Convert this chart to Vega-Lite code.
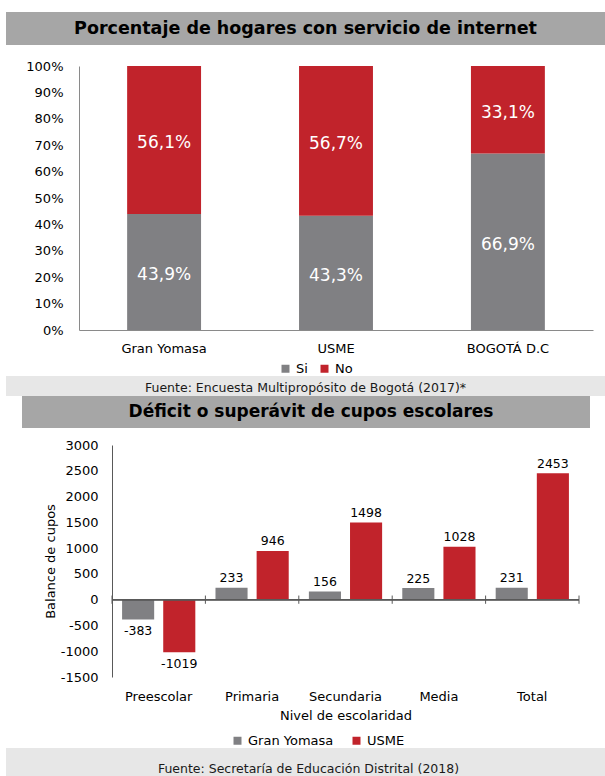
{
  "$schema": "https://vega.github.io/schema/vega-lite/v6.json",
  "background": "white",
  "padding": {"left": 6, "top": 12, "right": 0, "bottom": 0},
  "spacing": 0,
  "center": false,
  "resolve": {"scale": {"color": "independent"}, "legend": {"color": "independent"}},
  "config": {
    "font": "DejaVu Sans",
    "view": {"stroke": null},
    "concat": {"spacing": 0},
    "locale": {"number": {"decimal": ",", "thousands": ".", "grouping": [3], "currency": ["$", ""], "minus": "-"}},
    "axis": {"labelFont": "DejaVu Sans", "labelFontSize": 13, "labelColor": "#000000", "titleFont": "DejaVu Sans", "titleFontSize": 13, "titleFontWeight": "normal", "titleColor": "#000000", "grid": false, "ticks": false, "tickSize": 0, "labelOverlap": false},
    "legend": {"labelFont": "DejaVu Sans", "labelFontSize": 13, "labelColor": "#000000", "symbolType": "square", "symbolSize": 64, "symbolStrokeWidth": 0, "labelOffset": 4}
  },
  "vconcat": [
    {
      "width": 599, "height": 33,
      "view": {"fill": "#a6a6a6", "stroke": null},
      "data": {"values": [{"titulo": "Porcentaje de hogares con servicio de internet"}]},
      "mark": {"type": "text", "font": "DejaVu Sans", "fontWeight": "bold", "fontSize": 17.5, "color": "#000000"},
      "encoding": {"text": {"field": "titulo"}}
    },
    {
      "spacing": 0,
      "hconcat": [
        {
          "width": 1, "height": 1,
          "data": {"values": [{"vacio": ""}]},
          "mark": {"type": "text"},
          "encoding": {"text": {"field": "vacio"}}
        },
        {
          "width": 514, "height": 264,
          "title": {"text": " ", "fontSize": 10, "offset": 5},
          "data": {"values": [
            {"lugar": "Gran Yomasa", "respuesta": "Si", "valor": 0.439},
            {"lugar": "Gran Yomasa", "respuesta": "No", "valor": 0.561},
            {"lugar": "USME", "respuesta": "Si", "valor": 0.433},
            {"lugar": "USME", "respuesta": "No", "valor": 0.567},
            {"lugar": "BOGOTÁ D.C", "respuesta": "Si", "valor": 0.669},
            {"lugar": "BOGOTÁ D.C", "respuesta": "No", "valor": 0.331}
          ]},
          "encoding": {
            "x": {"field": "lugar", "type": "nominal", "sort": null,
                  "scale": {"paddingInner": 0.57, "paddingOuter": 0.28},
                  "axis": {"title": null, "labelAngle": 0, "labelPadding": 12, "domainColor": "#8a8a8a", "labelOverlap": false}},
            "order": {"field": "respuesta", "sort": "descending"}
          },
          "layer": [
            {
              "mark": {"type": "bar"},
              "encoding": {
                "y": {"field": "valor", "type": "quantitative", "stack": "zero",
                      "scale": {"domain": [0, 1], "nice": false},
                      "axis": {"title": null, "format": ".0%", "values": [0, 0.1, 0.2, 0.3, 0.4, 0.5, 0.6, 0.7, 0.8, 0.9, 1], "tickCount": 30, "labelPadding": 16, "minExtent": 72, "domainColor": "#8a8a8a", "labelOverlap": false}},
                "color": {"field": "respuesta", "type": "nominal",
                          "scale": {"domain": ["Si", "No"], "range": ["#808083", "#c1232b"]},
                          "legend": {"title": null, "orient": "none", "legendX": 273, "legendY": 296, "direction": "horizontal", "columnPadding": 10}}
              }
            },
            {
              "mark": {"type": "text", "color": "#ffffff", "fontSize": 17, "dy": 3},
              "encoding": {
                "y": {"field": "valor", "type": "quantitative", "stack": "zero", "bandPosition": 0.5},
                "detail": {"field": "respuesta"},
                "text": {"field": "valor", "type": "quantitative", "format": ".1%"}
              }
            }
          ]
        }
      ]
    },
    {
      "width": 599, "height": 20,
      "view": {"fill": "#e7e7e7", "stroke": null},
      "data": {"values": [{"fuente": "Fuente: Encuesta Multipropósito de Bogotá (2017)*"}]},
      "mark": {"type": "text", "fontSize": 12.5, "color": "#1a1a1a", "dy": 2},
      "encoding": {"text": {"field": "fuente"}}
    },
    {
      "spacing": 0,
      "hconcat": [
        {
          "width": 16, "height": 32,
          "data": {"values": [{"vacio": ""}]},
          "mark": {"type": "text"},
          "encoding": {"text": {"field": "vacio"}}
        },
        {
          "width": 568, "height": 32,
          "view": {"fill": "#a6a6a6", "stroke": null},
          "data": {"values": [{"titulo": "Déficit o superávit de cupos escolares"}]},
          "mark": {"type": "text", "font": "DejaVu Sans", "fontWeight": "bold", "fontSize": 17, "color": "#000000", "dx": 5},
          "encoding": {"text": {"field": "titulo"}}
        }
      ]
    },
    {
      "spacing": 0,
      "hconcat": [
        {
          "width": 1, "height": 1,
          "data": {"values": [{"vacio": ""}]},
          "mark": {"type": "text"},
          "encoding": {"text": {"field": "vacio"}}
        },
        {
          "width": 467, "height": 232,
          "title": {"text": " ", "fontSize": 8, "offset": 2.5},
          "data": {"values": [
            {"nivel": "Preescolar", "serie": "Gran Yomasa", "valor": -383},
            {"nivel": "Preescolar", "serie": "USME", "valor": -1019},
            {"nivel": "Primaria", "serie": "Gran Yomasa", "valor": 233},
            {"nivel": "Primaria", "serie": "USME", "valor": 946},
            {"nivel": "Secundaria", "serie": "Gran Yomasa", "valor": 156},
            {"nivel": "Secundaria", "serie": "USME", "valor": 1498},
            {"nivel": "Media", "serie": "Gran Yomasa", "valor": 225},
            {"nivel": "Media", "serie": "USME", "valor": 1028},
            {"nivel": "Total", "serie": "Gran Yomasa", "valor": 231},
            {"nivel": "Total", "serie": "USME", "valor": 2453}
          ]},
          "layer": [
            {
              "mark": {"type": "bar"},
              "encoding": {
                "x": {"field": "nivel", "type": "nominal", "sort": null,
                      "scale": {"paddingInner": 0, "paddingOuter": 0},
                      "axis": {"title": "Nivel de escolaridad", "labelAngle": 0, "labelPadding": 13, "titlePadding": 6, "domain": false, "labelOverlap": false}},
                "xOffset": {"field": "serie", "type": "nominal", "scale": {"paddingInner": 0.22, "paddingOuter": 0.245}},
                "y": {"field": "valor", "type": "quantitative",
                      "scale": {"domain": [-1500, 3000], "nice": false},
                      "axis": {"title": "Balance de cupos", "format": "d", "values": [-1500, -1000, -500, 0, 500, 1000, 1500, 2000, 2500, 3000], "tickCount": 30, "labelPadding": 14, "minExtent": 105, "titleX": -55, "domainColor": "#595959", "labelOverlap": false}},
                "color": {"field": "serie", "type": "nominal",
                          "scale": {"domain": ["Gran Yomasa", "USME"], "range": ["#808083", "#c1232b"]},
                          "legend": {"title": null, "orient": "none", "legendX": 225, "legendY": 289, "direction": "horizontal", "columnPadding": 16}}
              }
            },
            {
              "transform": [{"filter": "datum.valor >= 0"}],
              "mark": {"type": "text", "baseline": "bottom", "dy": -2.5, "fontSize": 12.5, "color": "#000000"},
              "encoding": {
                "x": {"field": "nivel", "type": "nominal", "sort": null},
                "xOffset": {"field": "serie", "type": "nominal"},
                "y": {"field": "valor", "type": "quantitative"},
                "text": {"field": "valor", "type": "quantitative", "format": "d"}
              }
            },
            {
              "transform": [{"filter": "datum.valor < 0"}],
              "mark": {"type": "text", "baseline": "top", "dy": 6, "fontSize": 12.5, "color": "#000000"},
              "encoding": {
                "x": {"field": "nivel", "type": "nominal", "sort": null},
                "xOffset": {"field": "serie", "type": "nominal"},
                "y": {"field": "valor", "type": "quantitative"},
                "text": {"field": "valor", "type": "quantitative", "format": "d"}
              }
            },
            {
              "mark": {"type": "rule", "color": "#595959", "strokeWidth": 1},
              "encoding": {"y": {"datum": 0}}
            },
            {
              "transform": [{"filter": "datum.serie === 'USME'"}],
              "mark": {"type": "rule", "color": "#595959", "strokeWidth": 1},
              "encoding": {
                "x": {"field": "nivel", "type": "nominal", "sort": null, "bandPosition": 0},
                "y": {"datum": -80},
                "y2": {"datum": 80}
              }
            },
            {
              "transform": [{"filter": "datum.serie === 'USME' && datum.nivel === 'Total'"}],
              "mark": {"type": "rule", "color": "#595959", "strokeWidth": 1},
              "encoding": {
                "x": {"field": "nivel", "type": "nominal", "sort": null, "bandPosition": 1},
                "y": {"datum": -80},
                "y2": {"datum": 80}
              }
            }
          ]
        }
      ]
    },
    {
      "width": 599, "height": 28,
      "view": {"fill": "#e7e7e7", "stroke": null},
      "data": {"values": [{"fuente": "Fuente: Secretaría de Educación Distrital (2018)"}]},
      "mark": {"type": "text", "fontSize": 12.5, "color": "#1a1a1a", "dy": 7, "dx": 3},
      "encoding": {"text": {"field": "fuente"}}
    }
  ]
}
